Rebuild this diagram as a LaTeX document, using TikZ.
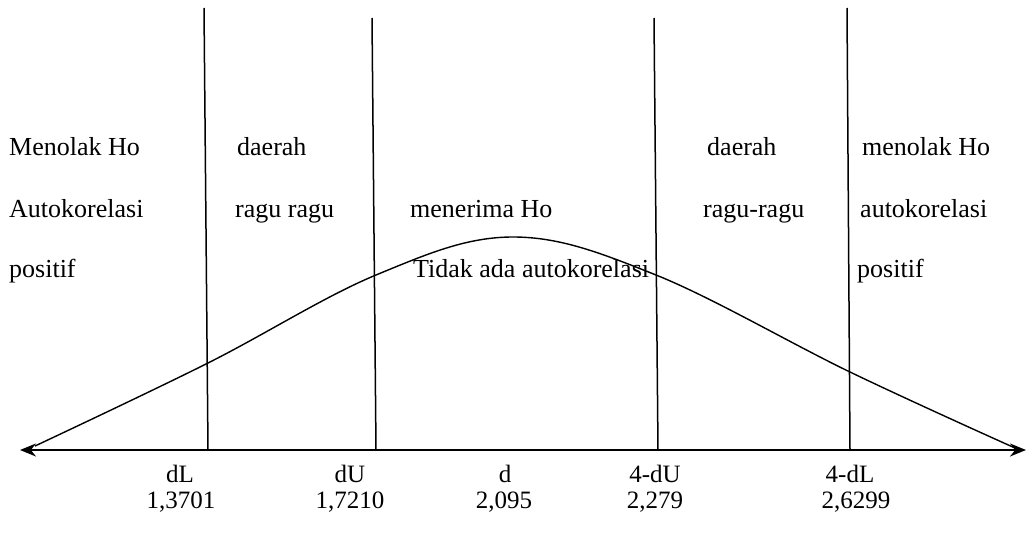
\documentclass[tikz,border=0pt]{standalone}
\usepackage{fontspec}
\setmainfont{Liberation Serif}
\usetikzlibrary{arrows.meta}
\begin{document}
\begin{tikzpicture}[x=1pt,y=-1pt,
  lbl/.style={anchor=base west,inner sep=0pt,font=\fontsize{26}{28}\selectfont},
  val/.style={anchor=base,inner sep=0pt,font=\fontsize{25}{27}\selectfont},
  vline/.style={line width=1.5pt},
  curve/.style={line width=1.4pt},
  axisline/.style={line width=2.2pt,{Stealth[length=16pt,width=13pt]}-{Stealth[length=16pt,width=13pt]}}]
\useasboundingbox (0,0) rectangle (1028,535);
% vertical lines
\coordinate (t1) at (204,8);   \coordinate (b1) at (208,450);
\coordinate (t2) at (372,18);  \coordinate (b2) at (376,450);
\coordinate (t3) at (654,18);  \coordinate (b3) at (658,450);
\coordinate (t4) at (847,8);   \coordinate (b4) at (850,450);
\draw[vline] (t1) -- (b1);
\draw[vline] (t2) -- (b2);
\draw[vline] (t3) -- (b3);
\draw[vline] (t4) -- (b4);
% axis
\coordinate (axL) at (20,450);
\coordinate (axR) at (1026,450);
\draw[axisline] (axL) -- (axR);
% curve
\draw[curve] plot[smooth,tension=0.6] coordinates {(35,446) (208,363) (376,275) (513,237) (656,275) (850,372) (1015,448)};
% texts
\node[lbl] (l1) at (9,155) {Menolak Ho};
\node[lbl] (l2) at (9,217) {Autokorelasi};
\node[lbl] (l3) at (9,277) {positif};
\node[lbl] (r1) at (237,155) {daerah};
\node[lbl] (r2) at (235,217) {ragu ragu};
\node[lbl] (m1) at (410,217) {menerima Ho};
\node[lbl] (m2) at (413,277) {Tidak ada autokorelasi};
\node[lbl] (s1) at (707,155) {daerah};
\node[lbl] (s2) at (703,217) {ragu-ragu};
\node[lbl] (q1) at (862,155) {menolak Ho};
\node[lbl] (q2) at (860,217) {autokorelasi};
\node[lbl] (q3) at (857,277) {positif};
% bottom values
\node[val] (v1a) at (180,482) {dL};
\node[val] (v1b) at (181,508) {1,3701};
\node[val] (v2a) at (350,482) {dU};
\node[val] (v2b) at (350,508) {1,7210};
\node[val] (v3a) at (505,482) {d};
\node[val] (v3b) at (504,508) {2,095};
\node[val] (v4a) at (655,482) {4-dU};
\node[val] (v4b) at (655,508) {2,279};
\node[val] (v5a) at (850,482) {4-dL};
\node[val] (v5b) at (856,508) {2,6299};
\end{tikzpicture}
\end{document}
